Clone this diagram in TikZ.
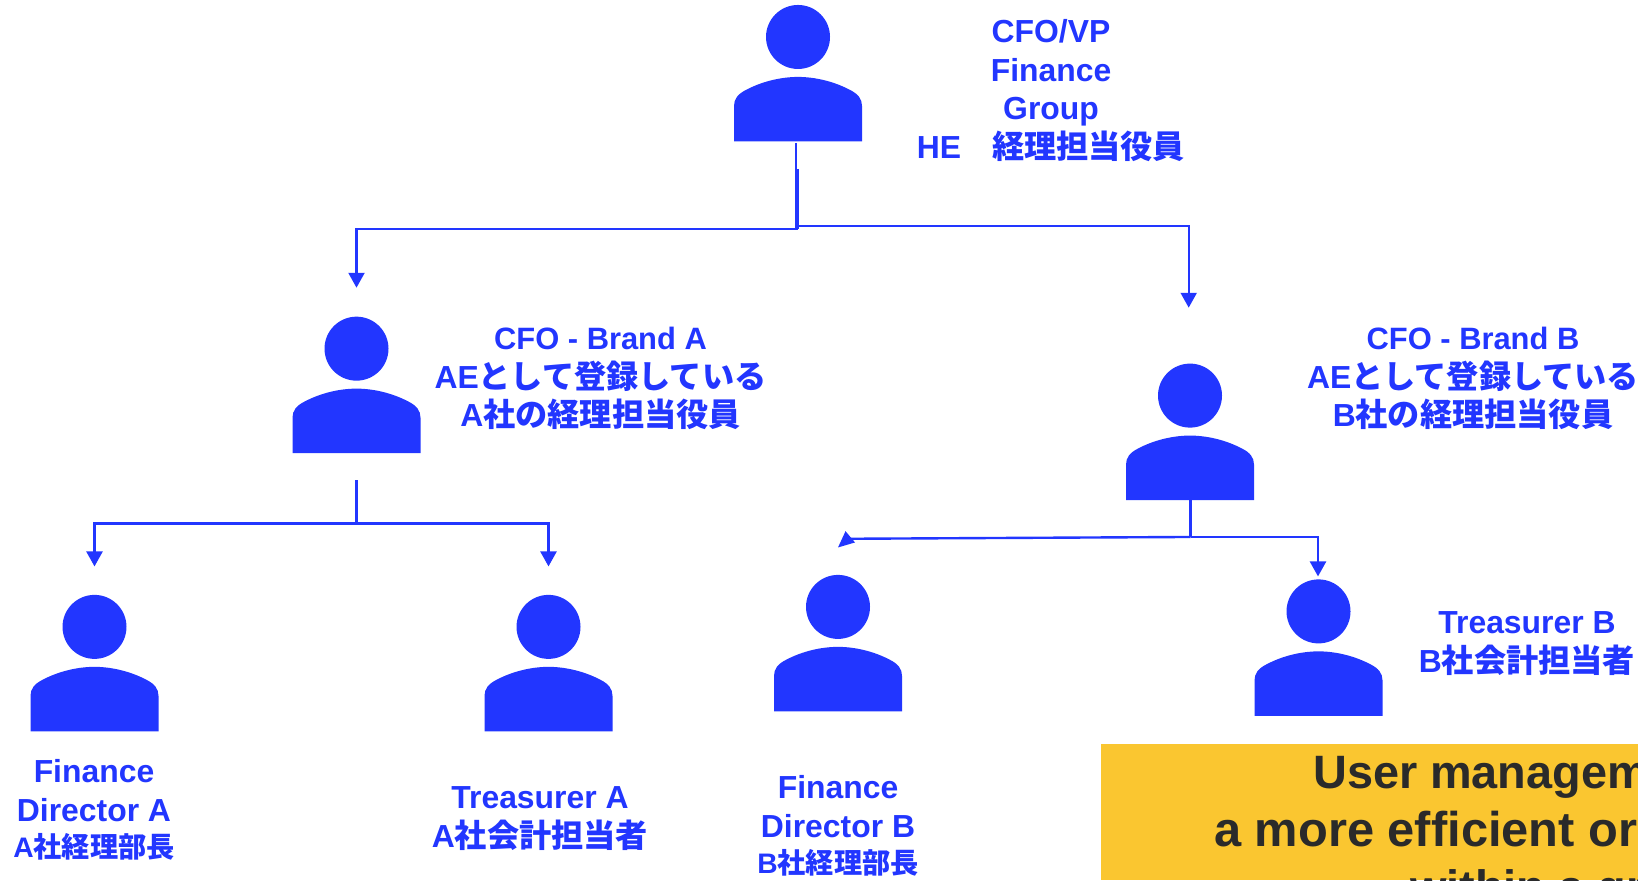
\documentclass[tikz,border=0pt]{standalone}
\usepackage{fontspec}
\setmainfont{Liberation Sans}
\newfontfamily\cjkfont{Noto Sans CJK JP}
\newcommand{\jp}[1]{{\cjkfont\bfseries\fontsize{32.3}{38.9}\selectfont #1}}
\newcommand{\jps}[1]{{\cjkfont\bfseries\fontsize{28.3}{34}\selectfont #1}}
\usetikzlibrary{arrows.meta}
\definecolor{brandblue}{HTML}{2236FF}
\definecolor{bannerbg}{HTML}{FAC630}
\definecolor{bannerink}{HTML}{2A2A2A}
\tikzset{
  x=1bp,y=-0.999bp,
  wire/.style={draw=brandblue,line width=2.4pt},
  wirearrow/.style={wire,-{Triangle[length=15pt,width=16pt]}},
  label/.style={text=brandblue,font=\fontsize{32}{38.9}\selectfont\bfseries,align=center,inner sep=0pt,anchor=north},
  banner/.style={text=bannerink,font=\fontsize{47}{50}\selectfont\bfseries,inner sep=0pt,anchor=base west},
  person/.pic={
    \fill[brandblue] (0,0) circle[radius=32bp];
    \fill[brandblue] (-64,104.5) -- (-64,69)
      .. controls (-64,62) and (-60,57) .. (-52,53)
      .. controls (-36,44.5) and (-17,40) .. (0,40)
      .. controls (17,40) and (36,44.5) .. (52,53)
      .. controls (60,57) and (64,62) .. (64,69)
      -- (64,104.5) -- cycle;
  },
}
\begin{document}
\begin{tikzpicture}
\useasboundingbox (0,0) rectangle (1638,881);
% people
\pic at (798,37) {person};
\pic at (356.5,349) {person};
\pic at (1190,396) {person};
\pic at (94.5,627.5) {person};
\pic at (548.5,627.5) {person};
\pic at (838,607.5) {person};
\pic at (1318.5,612) {person};
% coordinates
\coordinate (ceoA) at (795.7,143);
\coordinate (ceoB) at (797.5,169);
\coordinate (jL) at (797.5,229);
\coordinate (jR) at (797.5,226.3);
\coordinate (brandAin) at (356.5,288);
\coordinate (brandBin) at (1188.7,308);
\coordinate (aOut) at (356.5,480.5);
\coordinate (aJ) at (356.5,524);
\coordinate (fdAin) at (94.5,567);
\coordinate (trAin) at (548.5,567);
\coordinate (bOut) at (1190.5,499);
\coordinate (bJ) at (1190.5,537.5);
\coordinate (fdBend) at (850,539.3);
\coordinate (fdBtip) at (838,548);
\coordinate (fdBb1) at (845.5,531.7);
\coordinate (fdBb2) at (855,543);
\coordinate (trBin) at (1318,577);
% connectors
\draw[wire] (ceoA) -- (ceoA |- jL);
\draw[wire,line width=3pt] (ceoB) -- (jL);
\draw[wirearrow] (jL) -| (brandAin);
\draw[wirearrow] (jR) -| (brandBin);
\draw[wire] (aOut) -- (aJ);
\draw[wirearrow] (aJ) -| (fdAin);
\draw[wirearrow] (aJ) -| (trAin);
\draw[wire] (bOut) -- (bJ);
\draw[wire] (bJ) -- (fdBend);
\fill[brandblue] (fdBtip) -- (fdBb1) -- (fdBb2) -- cycle;
\draw[wirearrow] (bJ) -| (trBin);
% labels
\node[label] (lTop) at (1051,19) {CFO/VP\\Finance\\Group\\HE\hspace{31pt}\jp{経理担当役員}};
\node[label] (lA) at (600.5,327) {\fontsize{31}{38.9}\selectfont CFO - Brand A\\AE\jp{として登録している}\\A\jp{社の経理担当役員}};
\node[label] (lB) at (1473,327) {\fontsize{31}{38.9}\selectfont CFO - Brand B\\AE\jp{として登録している}\\B\jp{社の経理担当役員}};
\node[label] (lTrB) at (1527,612) {Treasurer B\\B\jp{社会計担当者}};
\node[label] (lFdA) at (94,760) {Finance\\Director A\\[-3pt]\fontsize{28.3}{34}\selectfont A\jps{社経理部長}};
\node[label] (lTrA) at (540,787) {Treasurer A\\A\jp{社会計担当者}};
\node[label] (lFdB) at (838,776) {Finance\\Director B\\[-3pt]\fontsize{28.3}{34}\selectfont B\jps{社経理部長}};
% banner
\begin{scope}
\clip (0,0) rectangle (1638,881);
\fill[bannerbg] (1101,745) rectangle (1638,881);
\node[banner] (bn1) at (1313,789) {User management};
\node[banner,font=\fontsize{49}{50}\selectfont\bfseries] (bn2) at (1214,847) {a more efficient organization};
\node[banner] (bn3) at (1410,904) {within a group};
\end{scope}
\end{tikzpicture}
\end{document}
